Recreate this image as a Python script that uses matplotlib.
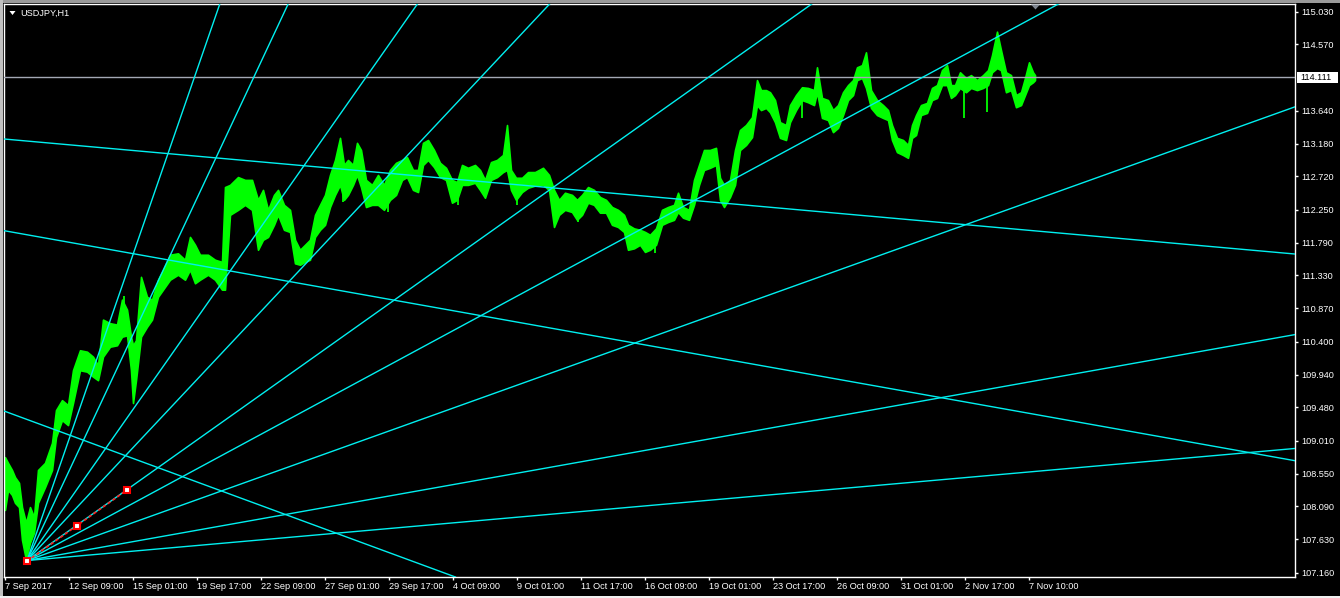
import matplotlib
matplotlib.use("Agg")
import matplotlib.pyplot as plt
from matplotlib.patches import Rectangle, Polygon
from matplotlib.transforms import blended_transform_factory

# ---------------- data (bar index = hours since 7 Sep 2017 chart start) ----------------
bars = [0, 3, 7, 10, 14, 17, 21, 25, 29, 33,
        40, 47, 51, 57, 63, 68, 75, 82, 88, 93,
        98, 105, 112, 117, 122, 126, 128, 131, 136, 142,
        147, 153, 158, 165, 173, 180, 185, 190, 195, 203,
        210, 217, 220, 225, 233, 240, 247, 253, 258, 263,
        269, 273, 279, 285, 290, 295, 300, 305, 310, 315,
        320, 325, 330, 335, 339, 343, 348, 352, 356, 361,
        367, 373, 379, 385, 391, 397, 402, 408, 413, 418,
        423, 429, 435, 441, 447, 452, 457, 463, 470, 475,
        480, 486, 492, 498, 502, 506, 511, 517, 523, 530,
        538, 544, 549, 554, 560, 567, 572, 577, 583, 589,
        595, 601, 607, 613, 619, 623, 629, 635, 640, 645,
        651, 657, 663, 669, 673, 678, 684, 689, 694, 699,
        705, 711, 715, 719, 725, 730, 735, 741, 747, 752,
        756, 761, 765, 770, 775, 781, 785, 791, 797, 803,
        809, 812, 817, 823, 828, 833, 838, 843, 848, 852,
        857, 861, 866, 872, 878, 883, 887, 892, 898, 903,
        907, 911, 916, 922, 927, 932, 937, 942, 946, 950,
        955, 961, 966, 972, 978, 983, 987, 992, 996, 1001,
        1006, 1011, 1016, 1020, 1024, 1028, 1030]

highs = [108.78, 108.70, 108.60, 108.50, 108.42, 108.08, 107.86, 108.08, 107.94, 108.60,
         108.70, 108.98, 109.44, 109.58, 109.51, 110.00, 110.28, 110.26, 110.19, 110.07,
         110.71, 110.66, 110.64, 110.99, 110.85, 110.47, 110.35, 110.42, 111.31, 111.03,
         110.99, 111.27, 111.41, 111.62, 111.64, 111.55, 111.87, 111.76, 111.62, 111.62,
         111.55, 111.52, 112.57, 112.60, 112.71, 112.67, 112.67, 112.39, 112.53, 112.25,
         112.46, 112.53, 112.32, 112.25, 111.83, 111.69, 111.76, 111.83, 112.18, 112.32,
         112.46, 112.74, 112.95, 113.26, 112.88, 112.95, 112.88, 113.19, 113.09, 112.67,
         112.60, 112.74, 112.60, 112.81, 112.91, 112.95, 112.99, 112.81, 112.81, 113.19,
         113.23, 113.09, 112.91, 112.84, 112.67, 112.64, 112.88, 112.84, 112.88, 112.81,
         112.67, 112.92, 112.95, 113.02, 113.44, 112.81, 112.70, 112.70, 112.78, 112.78,
         112.84, 112.74, 112.53, 112.39, 112.49, 112.46, 112.39, 112.46, 112.57, 112.53,
         112.43, 112.39, 112.29, 112.25, 112.18, 112.04, 111.99, 111.97, 111.94, 111.90,
         111.99, 112.25, 112.29, 112.32, 112.49, 112.29, 112.25, 112.67, 112.88, 113.09,
         113.09, 113.12, 112.70, 112.60, 112.67, 113.09, 113.37, 113.44, 113.55, 114.07,
         113.93, 113.93, 113.90, 113.79, 113.48, 113.44, 113.72, 113.86, 113.97, 113.96,
         113.93, 114.25, 113.82, 113.79, 113.65, 113.72, 113.90, 114.00, 114.07, 114.25,
         114.28, 114.46, 113.93, 113.79, 113.72, 113.65, 113.44, 113.26, 113.23, 113.16,
         113.44, 113.58, 113.72, 113.75, 113.96, 114.00, 114.21, 114.28, 114.00, 114.00,
         114.18, 114.10, 114.14, 114.07, 114.14, 114.21, 114.42, 114.75, 114.49, 114.18,
         114.14, 113.86, 113.90, 114.10, 114.32, 114.18, 114.14]

lows = [108.04, 108.32, 108.25, 108.14, 108.08, 107.62, 107.34, 107.58, 107.72, 108.14,
        108.36, 108.60, 109.06, 109.30, 109.23, 109.54, 110.00, 109.98, 109.91, 109.86,
        110.19, 110.33, 110.35, 110.47, 110.49, 110.00, 109.54, 109.86, 110.47, 110.61,
        110.71, 111.03, 111.13, 111.27, 111.34, 111.27, 111.41, 111.22, 111.27, 111.34,
        111.27, 111.13, 111.13, 112.18, 112.25, 112.32, 112.25, 111.69, 111.83, 111.87,
        112.04, 112.18, 111.97, 111.94, 111.50, 111.48, 111.52, 111.55, 111.87, 111.97,
        112.04, 112.29, 112.46, 112.60, 112.39, 112.46, 112.60, 112.74, 112.57, 112.29,
        112.32, 112.32, 112.25, 112.39, 112.46, 112.67, 112.71, 112.53, 112.50, 112.88,
        112.95, 112.85, 112.71, 112.67, 112.35, 112.39, 112.60, 112.60, 112.63, 112.53,
        112.42, 112.67, 112.71, 112.78, 112.81, 112.53, 112.39, 112.50, 112.56, 112.59,
        112.60, 112.53, 112.01, 112.18, 112.25, 112.22, 112.11, 112.18, 112.35, 112.32,
        112.21, 112.21, 112.04, 112.01, 111.94, 111.69, 111.71, 111.76, 111.66, 111.69,
        111.76, 112.04, 112.08, 112.11, 112.22, 112.14, 112.11, 112.32, 112.60, 112.81,
        112.84, 112.88, 112.39, 112.29, 112.43, 112.60, 113.09, 113.16, 113.27, 113.72,
        113.65, 113.68, 113.62, 113.48, 113.26, 113.23, 113.48, 113.65, 113.79, 113.76,
        113.72, 113.90, 113.54, 113.51, 113.34, 113.40, 113.58, 113.79, 113.86, 114.07,
        114.10, 113.96, 113.68, 113.58, 113.54, 113.51, 113.23, 113.06, 113.02, 112.98,
        113.26, 113.30, 113.58, 113.61, 113.79, 113.82, 114.00, 114.00, 113.82, 113.86,
        113.96, 113.90, 113.96, 113.93, 113.96, 114.00, 114.18, 114.24, 114.21, 113.90,
        113.93, 113.69, 113.72, 113.86, 114.00, 114.04, 114.07]

# isolated long wicks
spike_bars = [119, 338, 383, 453, 512, 573, 650, 797, 959, 982]
spike_lows = [110.60, 112.36, 112.22, 112.32, 112.32, 112.08, 111.64, 113.54, 113.54, 113.62]
spike_highs = [111.04, 112.80, 112.60, 112.60, 112.60, 112.35, 111.90, 113.90, 114.00, 114.10]

# axis labels
y_ticks = [107.16, 107.63, 108.09, 108.55, 109.01, 109.48, 109.94, 110.40, 110.87,
           111.33, 111.79, 112.25, 112.72, 113.18, 113.64, 114.57, 115.03]
y_labels = ["107.160", "107.630", "108.090", "108.550", "109.010", "109.480", "109.940",
            "110.400", "110.870", "111.330", "111.790", "112.250", "112.720", "113.180",
            "113.640", "114.570", "115.030"]
x_tick_bars = [0, 64, 128, 192, 256, 320, 384, 448, 512, 576, 640, 704, 768, 832, 896, 960, 1024]
x_labels = ["7 Sep 2017", "12 Sep 09:00", "15 Sep 01:00", "19 Sep 17:00", "22 Sep 09:00",
            "27 Sep 01:00", "29 Sep 17:00", "4 Oct 09:00", "9 Oct 01:00", "11 Oct 17:00",
            "16 Oct 09:00", "19 Oct 01:00", "23 Oct 17:00", "26 Oct 09:00", "31 Oct 01:00",
            "2 Nov 17:00", "7 Nov 10:00"]

symbol_label = "USDJPY,H1"
hline_price = 114.111
hline_label = "114.111"

# Gann fan (ascending) from the low
fan_anchor_bar = 22
fan_anchor_price = 107.33
fan_slopes = [0.0405, 0.0299, 0.0200, 0.01494, 0.00995, 0.00757, 0.00502, 0.0025, 0.00124]

# red 1x1 control line with its three handles
ctrl_bars = [22, 72, 122]
ctrl_prices = [107.32, 107.82, 108.32]

# descending lines (point on left edge + slope per bar)
down_bars = [-1, -1, -1]
down_prices = [113.244, 111.958, 109.428]
down_slopes = [-0.00125, -0.0025, -0.00516]

# ---------------- figure ----------------
W, H = 1340, 598
plt.rcParams["font.family"] = ["Liberation Sans", "DejaVu Sans"]
fig = plt.figure(figsize=(W / 100, H / 100), dpi=100, facecolor="black")


def fx(x):
    return x / W


def fy(y):
    return 1 - y / H


ax = fig.add_axes([fx(4), fy(577), (1295 - 4) / W, (577 - 4) / H])
ax.set_facecolor("black")
ax.set_xlim(-1, 1290)
ax.set_ylim(107.099, 115.138)

GREEN = "#00ff00"
CYAN = "#00f0f0"

ax.fill_between(bars, lows, highs, color=GREEN, linewidth=1.2, edgecolor=GREEN, zorder=2)
ax.vlines(spike_bars, spike_lows, spike_highs, color=GREEN, linewidth=1.3, zorder=2)

# horizontal line
ax.axhline(hline_price, color="#a3a8b4", linewidth=1, zorder=3)

# ascending fan rays
far_bar = 1500
for s in fan_slopes:
    ax.plot([fan_anchor_bar, far_bar],
            [fan_anchor_price, fan_anchor_price + s * (far_bar - fan_anchor_bar)],
            color=CYAN, linewidth=1, zorder=3, solid_capstyle="butt")

# descending lines
for b, p, s in zip(down_bars, down_prices, down_slopes):
    ax.axline((b, p), slope=s, color=CYAN, linewidth=1, zorder=3)

# red control line
ax.plot(ctrl_bars, ctrl_prices, color="#ff2020", linewidth=1.2, linestyle=(0, (2, 1.5)), zorder=4)
ax.plot(ctrl_bars, ctrl_prices, linestyle="none", marker="s", markersize=4.5,
        markerfacecolor="white", markeredgecolor="#ff0000", markeredgewidth=1.5, zorder=5)

# axes styling
for sp in ax.spines.values():
    sp.set_color("white")
    sp.set_linewidth(1)

ax.yaxis.tick_right()
ax.set_yticks(y_ticks)
ax.set_yticklabels(y_labels)
ax.set_xticks(x_tick_bars)
ax.set_xticklabels(x_labels)
ax.tick_params(axis="both", colors="white", labelcolor="white", labelsize=6.6,
               length=2.3, width=1, direction="out")
ax.tick_params(axis="y", pad=2.5)
ax.tick_params(axis="x", pad=1.5)
for lab in ax.get_xticklabels():
    lab.set_horizontalalignment("left")

# label box for horizontal line
bt = blended_transform_factory(ax.transAxes, ax.transData)
box_h = 0.075
ax.add_patch(Rectangle((1.0015, hline_price - box_h), 0.032, 2 * box_h, transform=bt,
                       facecolor="white", edgecolor="none", clip_on=False, zorder=6))
ax.text(1.0043, hline_price, hline_label, transform=bt, color="black", fontsize=6.6,
        va="center", ha="left", clip_on=False, zorder=7)

# symbol label and small triangle
fig.text(fx(20.5), fy(13.2), symbol_label, color="white", fontsize=6.6, va="center", ha="left")
fig.patches.append(Polygon([(fx(9.5), fy(11)), (fx(15.5), fy(11)), (fx(12.5), fy(15))],
                           closed=True, transform=fig.transFigure, facecolor="white",
                           edgecolor="none"))
# chart-shift marker at top
fig.patches.append(Polygon([(fx(1031), fy(4.5)), (fx(1040), fy(4.5)), (fx(1035.5), fy(9.5))],
                           closed=True, transform=fig.transFigure, facecolor="#7f8690",
                           edgecolor="none", zorder=10))

# window border
fig.patches.append(Rectangle((0, fy(3)), 1, 3 / H, transform=fig.transFigure,
                             facecolor="#9a9a9a", edgecolor="none"))
fig.patches.append(Rectangle((0, 0), 3 / W, 1, transform=fig.transFigure,
                             facecolor="#c0c0c0", edgecolor="none"))
fig.patches.append(Rectangle((0, 0), 1, 2 / H, transform=fig.transFigure,
                             facecolor="#f0f0f0", edgecolor="none"))

fig.savefig("out.png", dpi=100, facecolor="black")
